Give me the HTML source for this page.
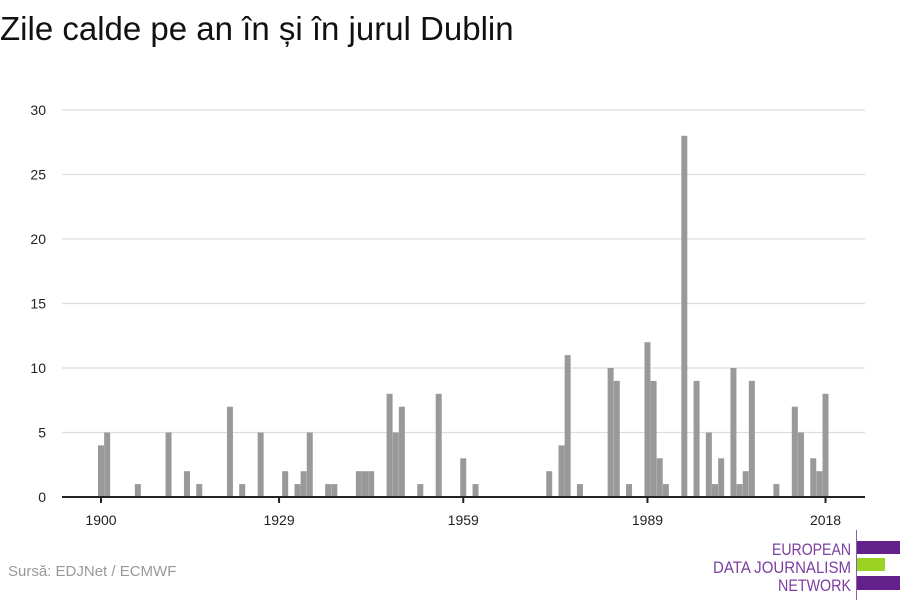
<!DOCTYPE html>
<html><head><meta charset="utf-8"><style>
body{margin:0;background:#fff;font-family:"Liberation Sans",sans-serif}
svg{display:block}
</style></head><body>
<svg width="900" height="600">
<text x="0" y="40" font-size="33" fill="#111">Zile calde pe an în și în jurul Dublin</text>
<g id="grid"></g>
<g id="bars"></g>
<g id="axes"></g>
<text x="8" y="576" font-size="15" fill="#999">Sursă: EDJNet / ECMWF</text>
<g>
<line x1="856.5" y1="530" x2="856.5" y2="600" stroke="#8e5cb0" stroke-width="1"/>
<rect x="857" y="541" width="43" height="13" fill="#64218c"/>
<rect x="857" y="558" width="28" height="13" fill="#9bd325"/>
<rect x="857" y="576" width="43" height="14" fill="#64218c"/>
<text x="851" y="555" font-size="17" fill="#7b3fa0" text-anchor="end" textLength="79" lengthAdjust="spacingAndGlyphs">EUROPEAN</text>
<text x="851" y="573" font-size="17" fill="#7b3fa0" text-anchor="end" textLength="138" lengthAdjust="spacingAndGlyphs">DATA JOURNALISM</text>
<text x="851" y="591" font-size="17" fill="#7b3fa0" text-anchor="end" textLength="73" lengthAdjust="spacingAndGlyphs">NETWORK</text>
</g>
</svg>
<script>
const years=[1900,1901,1906,1911,1914,1916,1921,1923,1926,1930,1932,1933,1934,1937,1938,1942,1943,1944,1947,1948,1949,1952,1955,1959,1961,1973,1975,1976,1978,1983,1984,1986,1989,1990,1991,1992,1995,1997,1999,2000,2001,2003,2004,2005,2006,2010,2013,2014,2016,2017,2018];
const values=[4,5,1,5,2,1,7,1,5,2,1,2,5,1,1,2,2,2,8,5,7,1,8,3,1,2,4,11,1,10,9,1,12,9,3,1,28,9,5,1,3,10,1,2,9,1,7,5,3,2,8];
const yTicks=[0,5,10,15,20,25,30];
const xTicks=[1900,1929,1959,1989,2018];
const NS="http://www.w3.org/2000/svg";
const x=y=>101+(y-1900)*6.14;
const yS=v=>497-v*12.9;
function mk(t,a,p){const e=document.createElementNS(NS,t);for(const k in a)e.setAttribute(k,a[k]);p.appendChild(e);return e;}
const grid=document.getElementById('grid'),bars=document.getElementById('bars'),axes=document.getElementById('axes');
yTicks.forEach(v=>{
 if(v>0){const l=mk('line',{x1:62,x2:865,y1:yS(v),y2:yS(v),stroke:'#ddd','stroke-width':1.3},grid);
 
 }
 const t=mk('text',{x:46,y:yS(v)+5,'font-size':14,fill:'#222','text-anchor':'end'},grid);
 t.textContent=v;
 
 
});
years.forEach((yr,i)=>{
 const r=mk('rect',{x:x(yr)-3,y:yS(values[i]),width:6,height:values[i]*12.9,fill:'#999'},bars);
 
 
});
const ax=mk('line',{x1:62,x2:865,y1:497,y2:497,stroke:'#222','stroke-width':2},axes);


xTicks.forEach(yr=>{
 const tk=mk('line',{x1:x(yr),x2:x(yr),y1:497,y2:503,stroke:'#222','stroke-width':2},axes);
 
 
 const t=mk('text',{x:x(yr),y:525,'font-size':14,fill:'#222','text-anchor':'middle'},axes);
 t.textContent=yr;
 
 
});
</script>
</body></html>
